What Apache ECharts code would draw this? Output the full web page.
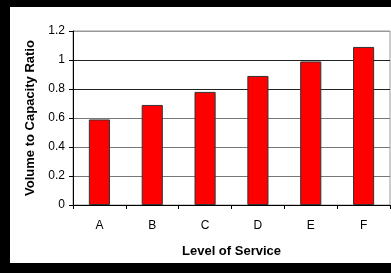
<!DOCTYPE html>
<html>
<head>
<meta charset="utf-8">
<script src="https://cdn.jsdelivr.net/npm/echarts@6/dist/echarts.min.js"></script>
<style>
  html, body { margin: 0; padding: 0; background: #000; }
  #frame { width: 391px; height: 273px; background: #000; position: relative; }
  #chart { position: absolute; left: 10px; top: 7px; width: 381px; height: 256px; background: #fff; }
</style>
</head>
<body>
<div id="frame"><div id="chart"></div></div>
<script>
// level of service categories
var categories = ["A", "B", "C", "D", "E", "F"];
// volume to capacity ratio
var vcRatio = [0.59, 0.69, 0.78, 0.89, 0.99, 1.09];
var yTicks = [0, 0.2, 0.4, 0.6, 0.8, 1, 1.2];

var chart = echarts.init(document.getElementById("chart"));
chart.setOption({
  animation: false,
  textStyle: { fontFamily: "Liberation Sans, Arial, sans-serif" },
  grid: { left: 63, right: 1, top: 24, bottom: 56, show: true, borderColor: "#999", borderWidth: 1 },
  xAxis: {
    type: "category",
    data: categories,
    name: "Level of Service",
    nameLocation: "middle",
    nameGap: 40,
    nameTextStyle: { fontWeight: "bold", fontSize: 13, color: "#000" },
    axisLine: { lineStyle: { color: "#000", width: 1 } },
    axisTick: { show: true, length: 4, lineStyle: { color: "#000" } },
    axisLabel: { color: "#000", fontSize: 12, margin: 15 }
  },
  yAxis: {
    type: "value",
    min: yTicks[0],
    max: yTicks[yTicks.length - 1],
    interval: 0.2,
    name: "Volume to Capacity Ratio",
    nameLocation: "middle",
    nameGap: 34,
    nameTextStyle: { fontWeight: "bold", fontSize: 13, color: "#000" },
    axisLine: { show: true, lineStyle: { color: "#000", width: 1 } },
    axisTick: { show: true, length: 4, lineStyle: { color: "#000" } },
    axisLabel: {
      color: "#000", fontSize: 12, margin: 8,
      formatter: function (v) { return String(Math.round(v * 10) / 10); }
    },
    splitLine: { show: true, lineStyle: { color: ["#000", "#777", "#777", "#777", "#222", "#222", "#999"], width: 1 } }
  },
  series: [{
    type: "bar",
    data: vcRatio,
    barWidth: "40%",
    itemStyle: { color: "#ff0000", borderColor: "#333", borderWidth: 1 }
  }]
});
</script>
</body>
</html>
